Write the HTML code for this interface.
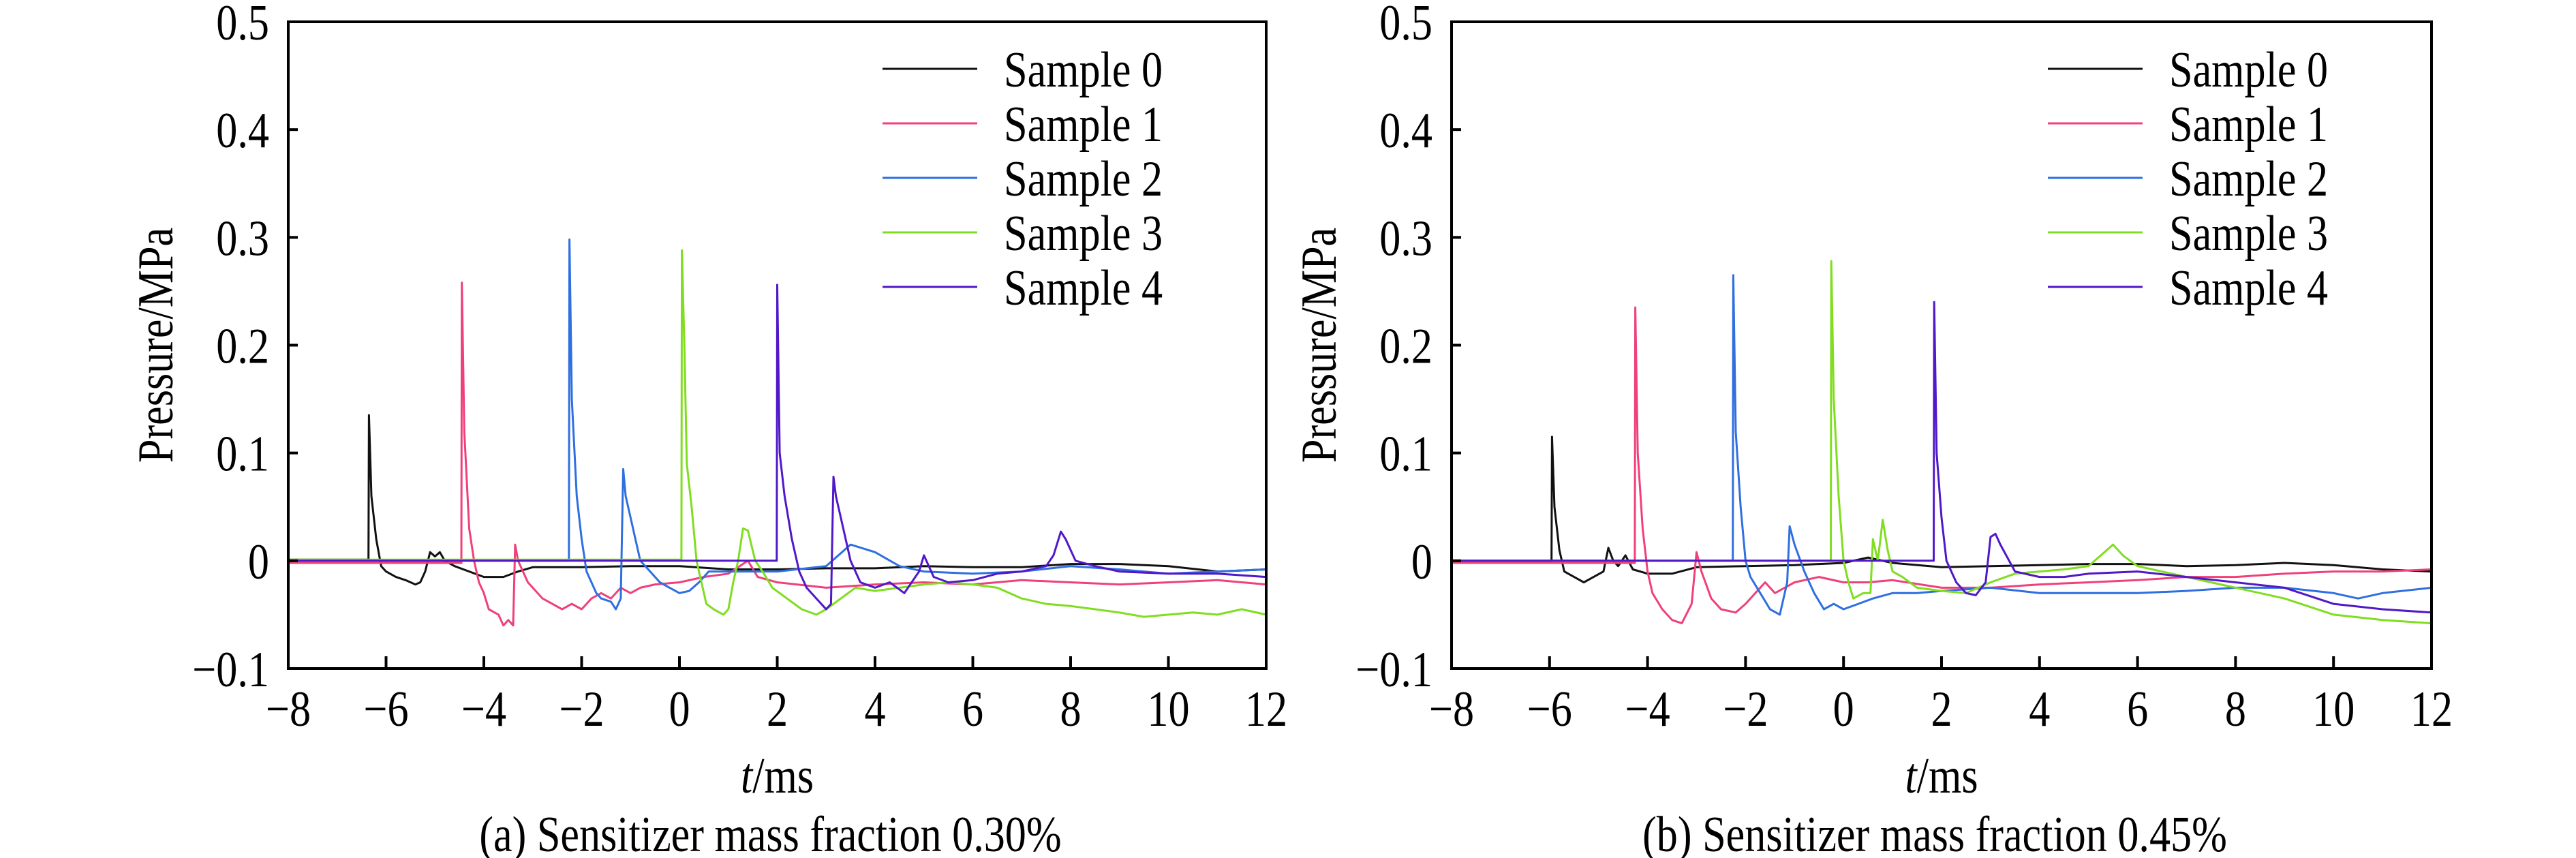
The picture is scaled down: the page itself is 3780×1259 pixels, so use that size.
<!DOCTYPE html>
<html><head><meta charset="utf-8"><style>
html,body{margin:0;padding:0;background:#fff;}
svg{display:block;}
text{font-family:"Liberation Serif",serif;fill:#000;}
</style></head><body>
<svg id="fig" width="3780" height="1259" viewBox="0 0 3780 1259" xmlns="http://www.w3.org/2000/svg"></svg>
<script>
const xTicks = [-8,-6,-4,-2,0,2,4,6,8,10,12];
const xTickLabels = ["\u22128","\u22126","\u22124","\u22122","0","2","4","6","8","10","12"];
const yTicks = [-0.1,0,0.1,0.2,0.3,0.4,0.5];
const yTickLabels = ["\u22120.1","0","0.1","0.2","0.3","0.4","0.5"];
const seriesNames = ["Sample 0","Sample 1","Sample 2","Sample 3","Sample 4"];
const seriesColors = ["#111111","#f0407a","#2f6fe0","#80dd20","#5018c8"];

// Panel (a)
const a_s0 = [[-8,0.001],[-6.36,0.001],[-6.35,0.135],[-6.3,0.06],[-6.2,0.02],[-6.1,-0.005],[-6,-0.01],[-5.8,-0.015],[-5.6,-0.018],[-5.4,-0.022],[-5.3,-0.02],[-5.2,-0.01],[-5.1,0.008],[-5,0.004],[-4.9,0.008],[-4.8,0],[-4.6,-0.005],[-4.3,-0.01],[-4,-0.015],[-3.6,-0.015],[-3.3,-0.01],[-3,-0.006],[-2,-0.006],[-1,-0.005],[0,-0.005],[1,-0.008],[2,-0.008],[3,-0.007],[4,-0.007],[5,-0.005],[6,-0.006],[7,-0.006],[8,-0.003],[9,-0.003],[10,-0.005],[11,-0.01],[12,-0.008]];
const a_s1 = [[-8,-0.002],[-4.46,-0.002],[-4.45,0.258],[-4.4,0.12],[-4.3,0.03],[-4.2,0],[-4.1,-0.02],[-4,-0.03],[-3.9,-0.045],[-3.7,-0.05],[-3.6,-0.06],[-3.5,-0.055],[-3.4,-0.06],[-3.36,0.015],[-3.3,0],[-3.2,-0.01],[-3.1,-0.02],[-3,-0.025],[-2.8,-0.035],[-2.6,-0.04],[-2.4,-0.045],[-2.2,-0.04],[-2,-0.045],[-1.8,-0.035],[-1.6,-0.03],[-1.4,-0.035],[-1.2,-0.025],[-1,-0.03],[-0.8,-0.025],[-0.5,-0.022],[0,-0.02],[0.5,-0.015],[1,-0.012],[1.4,0],[1.6,-0.015],[2,-0.02],[3,-0.025],[4,-0.022],[5,-0.02],[6,-0.022],[7,-0.018],[8,-0.02],[9,-0.022],[10,-0.02],[11,-0.018],[12,-0.022]];
const a_s2 = [[-8,0],[-2.26,0],[-2.25,0.298],[-2.2,0.15],[-2.1,0.06],[-2,0.02],[-1.9,-0.01],[-1.8,-0.02],[-1.7,-0.03],[-1.6,-0.035],[-1.4,-0.038],[-1.3,-0.045],[-1.2,-0.035],[-1.15,0.085],[-1.1,0.06],[-1,0.04],[-0.9,0.02],[-0.8,0],[-0.6,-0.01],[-0.4,-0.02],[-0.2,-0.025],[0,-0.03],[0.2,-0.028],[0.4,-0.02],[0.6,-0.01],[1,-0.01],[2,-0.01],[3,-0.005],[3.5,0.015],[4,0.008],[4.5,-0.005],[5,-0.01],[6,-0.012],[7,-0.01],[8,-0.005],[9,-0.008],[10,-0.012],[11,-0.01],[12,-0.008]];
const a_s3 = [[-8,0.001],[0.04,0.001],[0.05,0.288],[0.1,0.2],[0.15,0.09],[0.25,0.05],[0.35,0],[0.45,-0.02],[0.55,-0.04],[0.7,-0.045],[0.9,-0.05],[1,-0.045],[1.1,-0.02],[1.2,0],[1.3,0.03],[1.4,0.028],[1.55,0],[1.7,-0.01],[1.9,-0.025],[2.2,-0.035],[2.5,-0.045],[2.8,-0.05],[3,-0.045],[3.3,-0.035],[3.6,-0.025],[4,-0.028],[4.5,-0.025],[5,-0.022],[5.5,-0.02],[6,-0.022],[6.5,-0.025],[7,-0.035],[7.5,-0.04],[8,-0.042],[8.5,-0.045],[9,-0.048],[9.5,-0.052],[10,-0.05],[10.5,-0.048],[11,-0.05],[11.5,-0.045],[12,-0.05]];
const a_s4 = [[-8,0],[1.99,0],[2,0.256],[2.05,0.1],[2.15,0.06],[2.3,0.02],[2.45,-0.01],[2.6,-0.025],[2.8,-0.035],[3,-0.045],[3.1,-0.04],[3.15,0.078],[3.2,0.06],[3.35,0.03],[3.5,0],[3.7,-0.02],[4,-0.025],[4.3,-0.02],[4.6,-0.03],[4.9,-0.01],[5,0.005],[5.2,-0.015],[5.5,-0.02],[6,-0.018],[6.5,-0.012],[7,-0.01],[7.5,-0.005],[7.65,0.005],[7.8,0.027],[7.9,0.02],[8.1,0],[8.5,-0.005],[9,-0.01],[10,-0.012],[11,-0.012],[12,-0.015]];

// Panel (b)
const b_s0 = [[-8,-0.001],[-5.96,-0.001],[-5.95,0.115],[-5.9,0.05],[-5.8,0.01],[-5.7,-0.01],[-5.5,-0.015],[-5.3,-0.02],[-5.1,-0.015],[-4.9,-0.01],[-4.8,0.012],[-4.7,0],[-4.6,-0.005],[-4.45,0.005],[-4.3,-0.008],[-4,-0.012],[-3.5,-0.012],[-3,-0.006],[-2,-0.005],[-1,-0.004],[0,-0.002],[0.5,0.003],[1,-0.002],[2,-0.006],[3,-0.005],[4,-0.004],[5,-0.003],[6,-0.003],[7,-0.005],[8,-0.004],[9,-0.002],[10,-0.004],[11,-0.008],[12,-0.01]];
const b_s1 = [[-8,-0.002],[-4.26,-0.002],[-4.25,0.235],[-4.2,0.1],[-4.1,0.03],[-4,-0.01],[-3.9,-0.03],[-3.7,-0.045],[-3.5,-0.055],[-3.3,-0.058],[-3.1,-0.04],[-3,0.008],[-2.9,-0.01],[-2.7,-0.035],[-2.5,-0.045],[-2.2,-0.048],[-2,-0.04],[-1.8,-0.03],[-1.6,-0.02],[-1.4,-0.03],[-1.2,-0.025],[-1,-0.02],[-0.5,-0.015],[0,-0.02],[0.5,-0.02],[1,-0.018],[2,-0.025],[3,-0.025],[4,-0.022],[5,-0.02],[6,-0.018],[7,-0.015],[8,-0.015],[9,-0.012],[10,-0.01],[11,-0.01],[12,-0.008]];
const b_s2 = [[-8,0],[-2.26,0],[-2.25,0.265],[-2.2,0.12],[-2.1,0.05],[-2,0],[-1.9,-0.015],[-1.7,-0.03],[-1.5,-0.045],[-1.3,-0.05],[-1.15,-0.02],[-1.1,0.032],[-1,0.015],[-0.8,-0.01],[-0.6,-0.03],[-0.4,-0.045],[-0.2,-0.04],[0,-0.045],[0.3,-0.04],[0.6,-0.035],[1,-0.03],[1.5,-0.03],[2,-0.028],[3,-0.025],[4,-0.03],[5,-0.03],[6,-0.03],[7,-0.028],[8,-0.025],[9,-0.025],[10,-0.03],[10.5,-0.035],[11,-0.03],[12,-0.025]];
const b_s3 = [[-8,0],[-0.26,0],[-0.25,0.278],[-0.2,0.15],[-0.1,0.06],[0,0],[0.1,-0.02],[0.2,-0.035],[0.4,-0.03],[0.55,-0.03],[0.6,0.02],[0.7,0],[0.8,0.038],[0.9,0.01],[1,-0.01],[1.2,-0.015],[1.5,-0.025],[2,-0.028],[2.5,-0.03],[3,-0.02],[3.5,-0.012],[4,-0.01],[4.5,-0.008],[5,-0.005],[5.5,0.015],[5.7,0.005],[6,-0.005],[7,-0.015],[8,-0.025],[9,-0.035],[10,-0.05],[11,-0.055],[12,-0.058]];
const b_s4 = [[-8,0],[1.84,0],[1.85,0.24],[1.9,0.1],[2,0.04],[2.1,0],[2.3,-0.02],[2.5,-0.03],[2.7,-0.032],[2.9,-0.02],[3,0.022],[3.1,0.025],[3.2,0.015],[3.5,-0.01],[4,-0.015],[4.5,-0.015],[5,-0.012],[6,-0.01],[7,-0.015],[8,-0.02],[9,-0.025],[10,-0.04],[11,-0.045],[12,-0.048]];

const NS = "http://www.w3.org/2000/svg";
const svg = document.getElementById("fig");
const FS = 74, SX = 0.84;
function mk(tag, attrs, parent){
  const e = document.createElementNS(NS, tag);
  for (const k in attrs) e.setAttribute(k, attrs[k]);
  (parent||svg).appendChild(e);
  return e;
}
function txt(parent, x, y, anchor, rot){
  const tr = "translate(" + x + "," + y + ")" + (rot ? " rotate(-90)" : "") + " scale(" + SX + ",1)";
  return mk("text", {x: 0, y: 0, "font-size": FS, "text-anchor": anchor, transform: tr}, parent);
}
function drawPanel(id, L, R, T, B, series, caption){
  const g = mk("g", {});
  
  
  const xs = t => L + (t + 8) / 20 * (R - L);
  const ys = p => B - (p + 0.1) / 0.6 * (B - T);
  series.forEach((pts, i) => {
    const d = pts.map((p, j) => (j ? "L" : "M") + xs(p[0]).toFixed(1) + " " + ys(p[1]).toFixed(1)).join(" ");
    const path = mk("path", {d: d, fill: "none", stroke: seriesColors[i], "stroke-width": 3, "stroke-linejoin": "round"}, g);
    
    
  });
  const frame = mk("rect", {x: L, y: T, width: R - L, height: B - T, fill: "none", stroke: "#000", "stroke-width": 4}, g);
  
  
  xTicks.forEach((v, i) => {
    const x = xs(v);
    if (i > 0 && i < xTicks.length - 1) mk("line", {x1: x, x2: x, y1: B, y2: B - 18, stroke: "#000", "stroke-width": 4}, g);
    const t = txt(g, x, B + 84, "middle");
    t.textContent = xTickLabels[i];
    
    
  });
  yTicks.forEach((v, i) => {
    const y = ys(v);
    if (i > 0 && i < yTicks.length - 1) mk("line", {x1: L, x2: L + 14, y1: y, y2: y, stroke: "#000", "stroke-width": 4}, g);
    const t = txt(g, L - 28, y + 26, "end");
    t.textContent = yTickLabels[i];
    
    
  });
  const yt = txt(g, L - 170, (T + B) / 2, "middle", true);
  yt.textContent = "Pressure/MPa";
  
  
  const xt = txt(g, (L + R) / 2, B + 182, "middle");
  xt.innerHTML = '<tspan font-style="italic">t</tspan>/ms';
  
  
  const cap = txt(g, (L + R) / 2 - 10, B + 268, "middle");
  cap.textContent = caption;
  
  
  const lg = mk("g", {}, g);
  
  
  seriesNames.forEach((n, i) => {
    const y = T + 69 + i * 80;
    const ln = mk("line", {x1: R - 563, x2: R - 424, y1: y, y2: y, stroke: seriesColors[i], "stroke-width": 3}, lg);
    
    
    const tx = txt(lg, R - 385, y + 26, "start");
    tx.textContent = n;
    
    
  });
}
drawPanel("a", 423, 1858, 32, 981, [a_s0, a_s1, a_s2, a_s3, a_s4], "(a) Sensitizer mass fraction 0.30%");
drawPanel("b", 2130, 3568, 32, 981, [b_s0, b_s1, b_s2, b_s3, b_s4], "(b) Sensitizer mass fraction 0.45%");
</script>
</body></html>
